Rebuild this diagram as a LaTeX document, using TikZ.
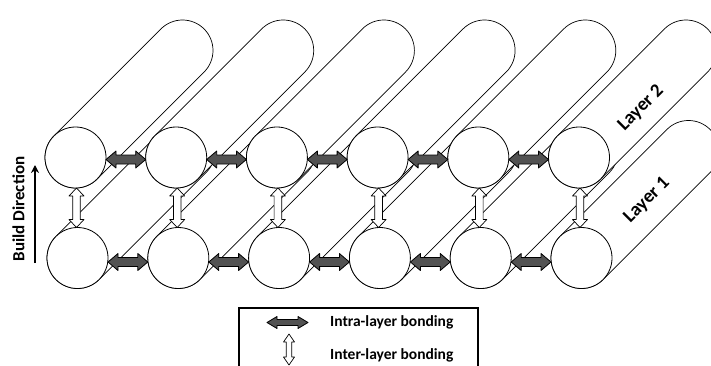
\documentclass[tikz,border=0pt]{standalone}
\usepackage{fontspec}
\setmainfont{Carlito}
\usetikzlibrary{calc,arrows.meta}
\tikzset{
  ball/.style={circle, draw, fill=white, line width=0.8pt, minimum size=61pt, inner sep=0pt, outer sep=0pt},
  tube/.style={fill=white, draw=black, line width=0.7pt},
  intra/.style={fill=black!68, draw=black, line width=0.8pt, line join=round},
  inter/.style={fill=white, draw=black, line width=0.7pt, line join=round},
  layertext/.style={rotate=45, font=\fontsize{19}{19}\selectfont\bfseries},
  legtext/.style={anchor=west, inner sep=0pt, font=\fontsize{15.5}{15.5}\selectfont\bfseries},
}
% horizontal double arrow: #1 left point, #2 right point, #3 head half height, #4 shaft half height
\newcommand\harr[4]{\draw[intra] let \p1=(#1), \p2=(#2) in
  (\x1,\y1) -- (\x1+10pt,\y1+#3pt) -- (\x1+10pt,\y1+#4pt) -- (\x2-10pt,\y1+#4pt) -- (\x2-10pt,\y1+#3pt)
  -- (\x2,\y1) -- (\x2-10pt,\y1-#3pt) -- (\x2-10pt,\y1-#4pt) -- (\x1+10pt,\y1-#4pt) -- (\x1+10pt,\y1-#3pt) -- cycle;}
% vertical double arrow: #1 top point, #2 bottom point, #3 head half width, #4 shaft half width
\newcommand\varr[4]{\draw[inter] let \p1=(#1), \p2=(#2) in
  (\x1,\y1) -- (\x1+#3pt,\y1-8pt) -- (\x1+#4pt,\y1-8pt) -- (\x1+#4pt,\y2+8pt) -- (\x1+#3pt,\y2+8pt)
  -- (\x1,\y2) -- (\x1-#3pt,\y2+8pt) -- (\x1-#4pt,\y2+8pt) -- (\x1-#4pt,\y1-8pt) -- (\x1-#3pt,\y1-8pt) -- cycle;}
% cylinder body behind a front circle centred at #1
\newcommand\tubebody[1]{\path[tube] ($(#1)+(135:30.5)$) -- ($(#1)+(107,107)+(135:30.5)$)
  arc[start angle=135, end angle=-45, radius=30.5] -- ($(#1)+(-45:30.5)$)
  arc[start angle=-45, end angle=-225, radius=30.5] -- cycle;}
\begin{document}
\begin{tikzpicture}[x=1pt, y=1pt]
\clip (0,0) rectangle (711,365);
\fill[white] (0,0) rectangle (711,365);
% centres
\foreach \i in {0,...,5} {
  \coordinate (bc\i) at ({77.5+100.8*\i},107);
  \coordinate (tc\i) at ({75.5+100.7*\i},207.5);
}
% layer 1 (bottom row)
\foreach \i in {0,...,5} {
  \tubebody{bc\i}
  \node[ball] (b\i) at (bc\i) {};
}
% layer 2 (top row)
\foreach \i in {0,...,5} {
  \tubebody{tc\i}
  \node[ball] (t\i) at (tc\i) {};
}
% intra-layer arrows
\foreach \i/\j in {0/1,1/2,2/3,3/4,4/5} {
  \harr{$(t\i.east)+(0,-2)$}{$(t\j.west)+(0,-2)$}{8.5}{4.5}
  \harr{$(b\i.east)+(0,-4)$}{$(b\j.west)+(0,-4)$}{8.5}{4.5}
}
% inter-layer arrows
\foreach \i in {0,...,5} {
  \varr{$(t\i.south)+(1,0)$}{b\i.north}{7.5}{3.8}
}
% labels
\node[layertext] (lay2) at (641,257) {Layer 2};
\node[layertext] (lay1) at (647,165) {Layer 1};
\node[rotate=90, font=\fontsize{17}{17}\selectfont\bfseries] (bd) at (18.5,156) {Build Direction};
\coordinate (bd0) at (35,102);
\coordinate (bd1) at (35,200);
\draw[line width=1.2pt, -{Stealth[length=8pt, width=8pt]}] (bd0) -- (bd1);
% legend
\draw[line width=1.6pt] (239,57) rectangle (478,-10);
\coordinate (la0) at (267,42.5);
\coordinate (la1) at (308,42.5);
\harr{la0}{la1}{6}{3}
\node[legtext] (li1) at (330,42.5) {Intra-layer bonding};
\coordinate (lb0) at (289,31);
\coordinate (lb1) at (289,0);
\varr{lb0}{lb1}{5.5}{2.8}
\node[legtext] (li2) at (330,10) {Inter-layer bonding};
\end{tikzpicture}
\end{document}
